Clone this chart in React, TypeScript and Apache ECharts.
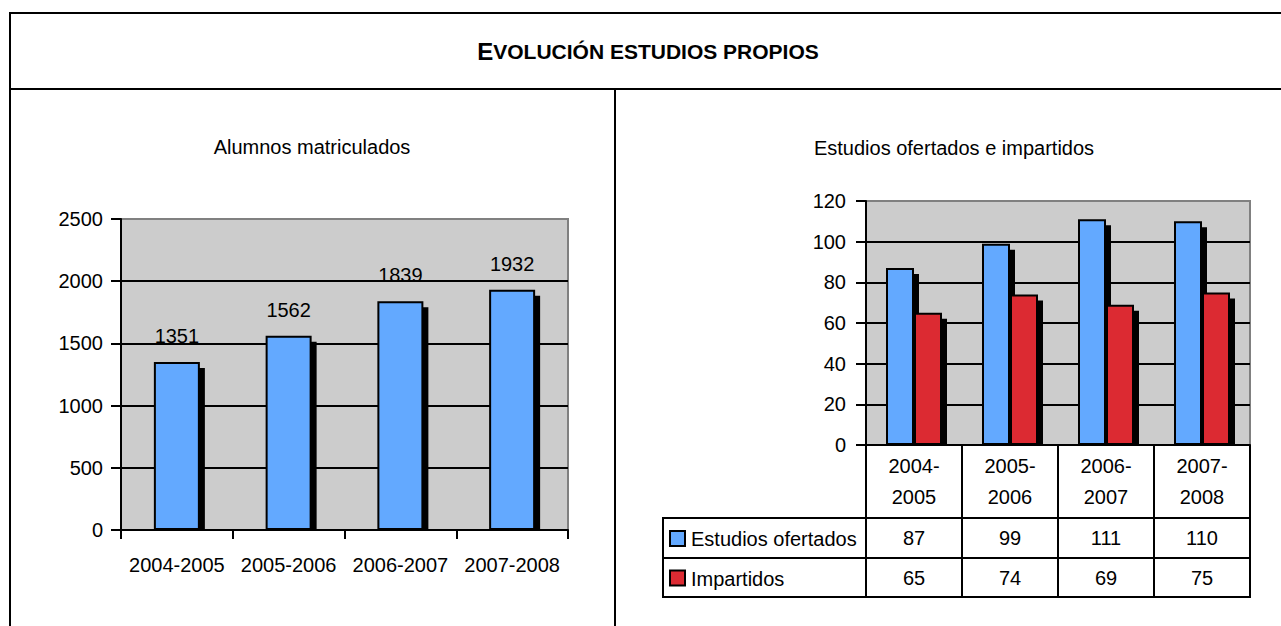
import React, { useEffect, useRef } from "react";
import * as echarts from "echarts";

const categories = ["2004-2005", "2005-2006", "2006-2007", "2007-2008"];
const alumnos = [1351, 1562, 1839, 1932];
const ofertados = [87, 99, 111, 110];
const impartidos = [65, 74, 69, 75];
const seriesNames = ["Estudios ofertados", "Impartidos"];
const seriesColors = ["#63A9FF", "#DC2B33"];
const mainTitleFirst = "E";
const mainTitleRest = "VOLUCIÓN ESTUDIOS PROPIOS";
const leftTitle = "Alumnos matriculados";
const rightTitle = "Estudios ofertados e impartidos";

const FONT = "'Liberation Sans Narrow', 'Arial Narrow', 'Liberation Sans', Arial, sans-serif";
const FS = 20;

// layout
const W = 1281;
const H = 626;
const LG = { left: 121, top: 219, width: 447, height: 311 };
const RG = { left: 866, top: 201, width: 384, height: 244 };
const ROW1 = 518;
const ROW2 = 558;
const ROW3 = 597;
const TABLE_LEFT = 663;

const black = "#000";

export default function App() {
  const ref = useRef<HTMLDivElement>(null);
  useEffect(() => {
    if (!ref.current) return;
    const chart = echarts.init(ref.current, null, { renderer: "svg" });
    const txt = { color: black, fontFamily: FONT, fontSize: FS };
    const bottom = RG.top + RG.height;
    const catW = RG.width / categories.length;

    const lines: any[] = [];
    const line = (x1: number, y1: number, x2: number, y2: number) =>
      lines.push({
        type: "line",
        z: 100,
        shape: { x1, y1, x2, y2 },
        style: { stroke: black, lineWidth: 2 },
        silent: true,
      });
    // frame
    line(10, 13, W, 13);
    line(10, 89, W, 89);
    line(10, 12, 10, H);
    line(615, 89, 615, H);
    // table
    for (let i = 0; i <= categories.length; i++) {
      const x = RG.left + i * catW;
      line(x, bottom, x, ROW3);
    }
    line(TABLE_LEFT, ROW1, RG.left + RG.width + 1, ROW1);
    line(TABLE_LEFT, ROW2, RG.left + RG.width + 1, ROW2);
    line(TABLE_LEFT, ROW3, RG.left + RG.width + 1, ROW3);
    line(TABLE_LEFT, ROW1 - 1, TABLE_LEFT, ROW3 + 1);

    const legendEls: any[] = [];
    seriesNames.forEach((name, i) => {
      const rowTop = i === 0 ? ROW1 : ROW2;
      const rowBot = i === 0 ? ROW2 : ROW3;
      const cy = (rowTop + rowBot) / 2;
      legendEls.push({
        type: "rect",
        z: 100,
        shape: { x: 670, y: cy - 7, width: 15, height: 15 },
        style: { fill: seriesColors[i], stroke: black, lineWidth: 2 },
      });
      legendEls.push({
        type: "text",
        z: 100,
        x: 691,
        y: cy + 1,
        style: {
          text: name,
          fill: black,
          font: `${FS}px ${FONT}`,
          align: "left",
          verticalAlign: "middle",
        },
      });
    });

    const valueAxisCommon = {
      axisLine: { show: true, lineStyle: { color: black, width: 2 } },
      axisTick: { show: true, length: 10, lineStyle: { color: black, width: 2 } },
      splitLine: {
        show: true,
        showMaxLine: false,
        showMinLine: false,
        lineStyle: { color: black, width: 2 },
      },
    };

    const barStyle = (color: string) => ({
      color,
      borderColor: black,
      borderWidth: 2,
      shadowColor: black,
      shadowBlur: 0,
      shadowOffsetX: 5,
      shadowOffsetY: 6,
    });

    const plain = (v: number) => String(v);

    chart.setOption({
      animation: false,
      backgroundColor: "#fff",
      grid: [
        { ...LG, show: true, backgroundColor: "#CCCCCC", borderColor: "#808080", borderWidth: 2 },
        { ...RG, show: true, backgroundColor: "#CCCCCC", borderColor: "#808080", borderWidth: 2 },
        { ...RG, show: false },
        { ...RG, show: false },
      ],
      xAxis: [
        {
          gridIndex: 0,
          type: "category",
          data: categories,
          z: 60,
          axisLine: { lineStyle: { color: black, width: 2 } },
          axisTick: { show: true, length: 9, lineStyle: { color: black, width: 2 } },
          axisLabel: { ...txt, margin: 25, interval: 0 },
        },
        {
          gridIndex: 1,
          type: "category",
          data: categories,
          z: 60,
          axisLine: { lineStyle: { color: black, width: 2 } },
          axisTick: { show: false },
          axisLabel: {
            ...txt,
            interval: 0,
            formatter: (v: string) => v.replace("-", "-\n"),
            lineHeight: 31,
            margin: 36.5,
            verticalAlign: "middle",
          },
        },
        {
          gridIndex: 2,
          type: "category",
          position: "bottom",
          data: ofertados.map(String),
          offset: (ROW1 + ROW2) / 2 - bottom,
          axisLine: { show: false },
          axisTick: { show: false },
          axisLabel: { ...txt, interval: 0, margin: 0, verticalAlign: "middle" },
        },
        {
          gridIndex: 3,
          type: "category",
          position: "bottom",
          data: impartidos.map(String),
          offset: (ROW2 + ROW3) / 2 - bottom,
          axisLine: { show: false },
          axisTick: { show: false },
          axisLabel: { ...txt, interval: 0, margin: 0, verticalAlign: "middle" },
        },
      ],
      yAxis: [
        {
          gridIndex: 0,
          type: "value",
          min: 0,
          max: 2500,
          interval: 500,
          ...valueAxisCommon,
          axisLabel: { ...txt, margin: 18, formatter: plain },
        },
        {
          gridIndex: 1,
          type: "value",
          min: 0,
          max: 120,
          interval: 20,
          ...valueAxisCommon,
          axisLabel: { ...txt, margin: 20, formatter: plain },
        },
        { gridIndex: 2, type: "value", show: false },
        { gridIndex: 3, type: "value", show: false },
      ],
      series: [
        {
          type: "bar",
          name: leftTitle,
          xAxisIndex: 0,
          yAxisIndex: 0,
          data: alumnos,
          barWidth: 46,
          itemStyle: barStyle(seriesColors[0]),
          label: { show: true, position: "top", distance: 16, ...txt },
        },
        {
          type: "bar",
          name: seriesNames[0],
          xAxisIndex: 1,
          yAxisIndex: 1,
          data: ofertados,
          barWidth: 28,
          barGap: "0%",
          itemStyle: barStyle(seriesColors[0]),
        },
        {
          type: "bar",
          name: seriesNames[1],
          xAxisIndex: 1,
          yAxisIndex: 1,
          data: impartidos,
          barWidth: 28,
          barGap: "0%",
          itemStyle: barStyle(seriesColors[1]),
        },
      ],
      graphic: {
        elements: [
          // cover bar shadows below the category axes
          {
            type: "rect",
            z: 50,
            shape: { x: LG.left + 1, y: LG.top + LG.height + 1, width: LG.width, height: 8 },
            style: { fill: "#fff" },
          },
          {
            type: "rect",
            z: 50,
            shape: { x: RG.left + 1, y: bottom + 1, width: RG.width, height: 8 },
            style: { fill: "#fff" },
          },
          {
            type: "text",
            z: 100,
            x: 648,
            y: 51,
            style: {
              text: `{a|${mainTitleFirst}}{b|${mainTitleRest}}`,
              align: "center",
              verticalAlign: "middle",
              rich: {
                a: { fontSize: 24, fontWeight: "bold", fontFamily: "'Liberation Sans', Arial, sans-serif", fill: black },
                b: { fontSize: 21, fontWeight: "bold", fontFamily: "'Liberation Sans', Arial, sans-serif", fill: black },
              },
            },
          },
          {
            type: "text",
            z: 100,
            x: 312,
            y: 147,
            style: { text: leftTitle, fill: black, font: `${FS}px ${FONT}`, align: "center", verticalAlign: "middle" },
          },
          {
            type: "text",
            z: 100,
            x: 954,
            y: 148,
            style: { text: rightTitle, fill: black, font: `${FS}px ${FONT}`, align: "center", verticalAlign: "middle" },
          },
          ...lines,
          ...legendEls,
        ],
      },
    });
    return () => chart.dispose();
  }, []);
  return (
    <div
      ref={ref}
      style={{ position: "absolute", left: 0, top: 0, width: W, height: H }}
    />
  );
}
